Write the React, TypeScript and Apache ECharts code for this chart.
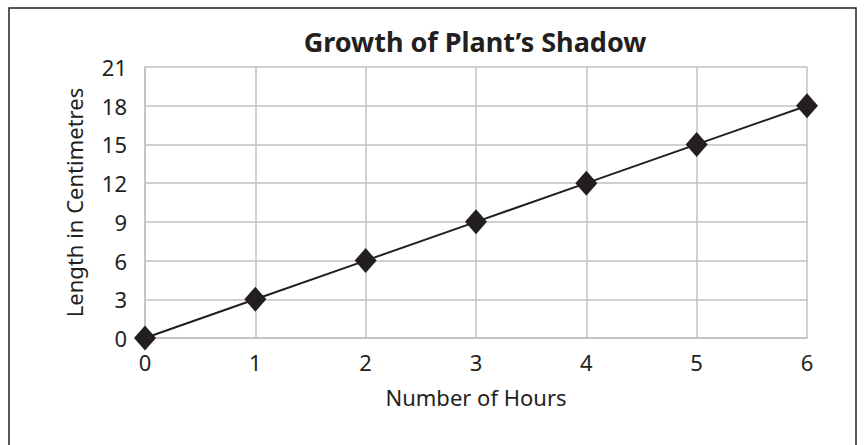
import React, { useEffect, useRef } from "react";
import * as echarts from "echarts";

const hours = [0, 1, 2, 3, 4, 5, 6];
const lengths = [0, 3, 6, 9, 12, 15, 18];
const titleText = "Growth of Plant\u2019s Shadow";
const xName = "Number of Hours";
const yName = "Length in Centimetres";

export default function App() {
  const ref = useRef<HTMLDivElement>(null);
  useEffect(() => {
    document.body.style.margin = "0";
    const chart = echarts.init(ref.current!, null, { renderer: "svg" });
    const font = "Noto Sans";
    const ink = "#231f20";
    chart.setOption({
      animation: false,
      backgroundColor: "#ffffff",
      title: {
        text: titleText,
        left: 470,
        textAlign: "center",
        top: 23,
        textStyle: { fontFamily: font, fontWeight: "bold", fontSize: 27, color: ink },
      },
      graphic: [
        {
          type: "rect",
          shape: { x: 9, y: 8, width: 847, height: 450 },
          style: { fill: "none", stroke: ink, lineWidth: 1.5 },
          silent: true,
        },
      ],
      grid: { left: 145, right: 57, top: 67, bottom: 107 },
      xAxis: {
        type: "value",
        min: 0,
        max: 6,
        interval: 1,
        name: xName,
        nameLocation: "middle",
        nameGap: 48,
        nameTextStyle: { fontFamily: font, fontSize: 22, color: ink },
        axisLine: { show: true, lineStyle: { color: "#c0c0c0", width: 1.5 } },
        axisTick: { show: false },
        axisLabel: { fontFamily: font, fontSize: 22, color: ink, margin: 13, formatter: (v: number) => String(v) },
        splitLine: { show: true, lineStyle: { color: "#c0c0c0", width: 1.5 } },
      },
      yAxis: {
        type: "value",
        min: 0,
        max: 21,
        interval: 3,
        name: yName,
        nameLocation: "middle",
        nameGap: 60,
        nameRotate: 90,
        nameTextStyle: { fontFamily: font, fontSize: 22, color: ink },
        axisLine: { show: true, lineStyle: { color: "#c0c0c0", width: 1.5 } },
        axisTick: { show: false },
        axisLabel: { fontFamily: font, fontSize: 22, color: ink, margin: 18 },
        splitLine: { show: true, lineStyle: { color: "#c0c0c0", width: 1.5 } },
      },
      series: [
        {
          type: "line",
          data: hours.map((h, i) => [h, lengths[i]]),
          symbol: "diamond",
          symbolSize: [22, 25],
          lineStyle: { color: ink, width: 2 },
          itemStyle: { color: ink },
        },
      ],
    });
    return () => chart.dispose();
  }, []);
  return <div ref={ref} style={{ position: "absolute", left: 0, top: 0, width: 864, height: 445 }} />;
}
